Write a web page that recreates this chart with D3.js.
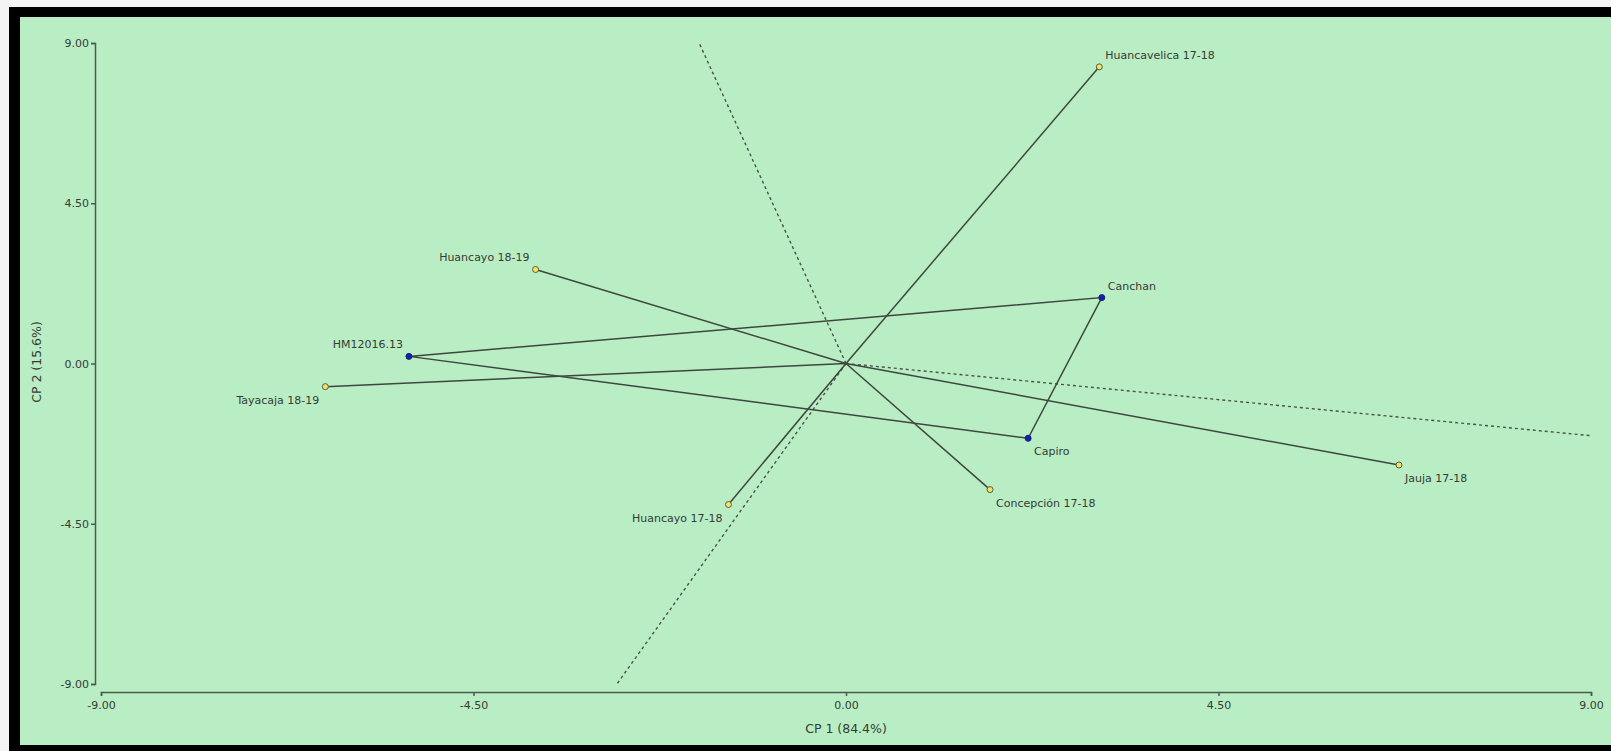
<!DOCTYPE html>
<html>
<head>
<meta charset="utf-8">
<script src="https://cdn.jsdelivr.net/npm/d3@7"></script>
<style>
  html, body { margin: 0; padding: 0; background: #f4f4f4; overflow: hidden; }
  svg { display: block; }
  text { font-family: "DejaVu Sans", Verdana, sans-serif; fill: #363b36; }
</style>
</head>
<body>
<svg id="chart" width="1611" height="751"></svg>
<script>
// ---- data ----
const genotypes = ["HM12016.13", "Canchan", "Capiro"];
const genoX = [-5.28, 3.09, 2.20];
const genoY = [0.20, 1.85, -2.10];

const environments = ["Huancavelica 17-18", "Huancayo 18-19", "Tayacaja 18-19",
                      "Huancayo 17-18", "Concepción 17-18", "Jauja 17-18"];
const envX = [3.06, -3.75, -6.29, -1.42, 1.74, 6.68];
const envY = [8.33, 2.64, -0.65, -3.96, -3.54, -2.85];

const genoLabelSide = ["nw", "ne", "se"];
const envLabelSide = ["ne", "nw", "sw", "sw", "se", "se"];

const xTicks = [-9, -4.5, 0, 4.5, 9];
const yTicks = [-9, -4.5, 0, 4.5, 9];
const xTitle = "CP 1 (84.4%)";
const yTitle = "CP 2 (15.6%)";

// ---- layout ----
const svg = d3.select("#chart");
const W = 1611, H = 751;
const lineCol = "#3d473e";

svg.append("rect").attr("x", 9).attr("y", 7).attr("width", W + 20).attr("height", H)
  .attr("fill", "#000");
svg.append("rect").attr("x", 20).attr("y", 17).attr("width", W + 20).attr("height", 728)
  .attr("fill", "#b9edc3");

const x = d3.scaleLinear().domain([-9, 9]).range([101, 1591]);
const y = d3.scaleLinear().domain([-9, 9]).range([684, 43]);
const fmt = v => d3.format(".2f")(v).replace("\u2212", "-");

// axes
const xAxis = svg.append("g").attr("transform", "translate(0,692)")
  .call(d3.axisBottom(x).tickValues(xTicks).tickFormat(fmt).tickSize(4).tickSizeOuter(4));
const yAxis = svg.append("g").attr("transform", "translate(95,0)")
  .call(d3.axisLeft(y).tickValues(yTicks).tickFormat(fmt).tickSize(4).tickSizeOuter(4));
[xAxis, yAxis].forEach(g => {
  g.selectAll("path, line").attr("stroke", "#4d5a4e").attr("stroke-width", 1.5);
  g.selectAll("text").style("font-family", "DejaVu Sans, sans-serif")
    .style("font-size", "11px").attr("fill", "#363b36");
});
xAxis.selectAll("text").attr("dy", "0.71em").attr("y", 9);
yAxis.selectAll("text").attr("x", -6);

svg.append("text").attr("x", 846).attr("y", 733).attr("text-anchor", "middle")
  .style("font-size", "12.5px").text(xTitle);
svg.append("text").attr("transform", "translate(41,362) rotate(-90)")
  .attr("text-anchor", "middle").style("font-size", "12.5px").text(yTitle);

// dashed perpendicular rays from origin for each polygon side
const n = genotypes.length;
function rayToBox(dx, dy) {
  const tx = dx !== 0 ? 9 / Math.abs(dx) : Infinity;
  const ty = dy !== 0 ? 9 / Math.abs(dy) : Infinity;
  const t = Math.min(tx, ty);
  return [dx * t, dy * t];
}
const cx = d3.mean(genoX), cy = d3.mean(genoY);
for (let i = 0; i < n; i++) {
  const j = (i + 1) % n;
  const ex = genoX[j] - genoX[i], ey = genoY[j] - genoY[i];
  let px = -ey, py = ex;
  const mx = (genoX[i] + genoX[j]) / 2 - cx, my = (genoY[i] + genoY[j]) / 2 - cy;
  if (px * mx + py * my < 0) { px = -px; py = -py; }
  const [ux, uy] = rayToBox(px, py);
  svg.append("line")
    .attr("x1", x(0)).attr("y1", y(0)).attr("x2", x(ux)).attr("y2", y(uy))
    .attr("stroke", "#4a554b").attr("stroke-width", 1.4)
    .attr("stroke-dasharray", "3,3");
}

// environment vectors from origin
environments.forEach((e, i) => {
  svg.append("line")
    .attr("x1", x(0)).attr("y1", y(0)).attr("x2", x(envX[i])).attr("y2", y(envY[i]))
    .attr("stroke", lineCol).attr("stroke-width", 1.5);
});

// polygon of genotypes
const poly = genotypes.map((g, i) => [x(genoX[i]), y(genoY[i])]);
svg.append("path").attr("d", d3.line()(poly.concat([poly[0]])))
  .attr("fill", "none").attr("stroke", lineCol).attr("stroke-width", 1.5);

// markers
environments.forEach((e, i) => {
  svg.append("circle").attr("cx", x(envX[i])).attr("cy", y(envY[i])).attr("r", 3)
    .attr("fill", "#f2e46a").attr("stroke", "#5b5b3a").attr("stroke-width", 1);
});
genotypes.forEach((g, i) => {
  svg.append("circle").attr("cx", x(genoX[i])).attr("cy", y(genoY[i])).attr("r", 3)
    .attr("fill", "#1020c0").attr("stroke", "#1a1f5a").attr("stroke-width", 1);
});

// labels
function label(txt, vx, vy, side) {
  const east = side.endsWith("e");
  const north = side.startsWith("n");
  svg.append("text")
    .attr("x", x(vx) + (east ? 6 : -6))
    .attr("y", y(vy) + (north ? -8 : 17))
    .attr("text-anchor", east ? "start" : "end")
    .style("font-size", "11px")
    .text(txt);
}
genotypes.forEach((g, i) => label(g, genoX[i], genoY[i], genoLabelSide[i]));
environments.forEach((e, i) => label(e, envX[i], envY[i], envLabelSide[i]));
</script>
</body>
</html>
